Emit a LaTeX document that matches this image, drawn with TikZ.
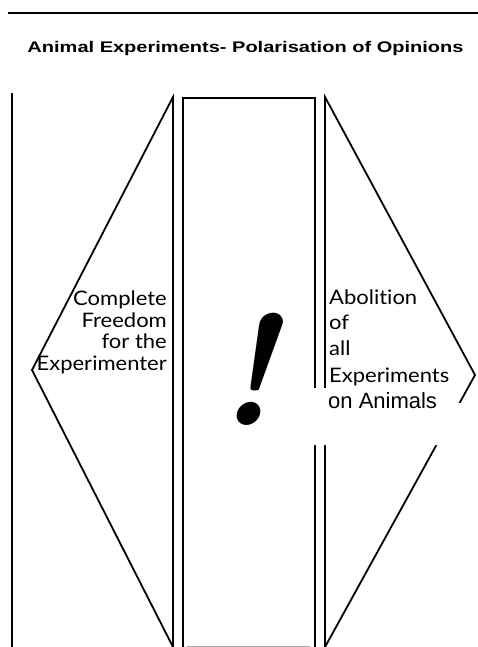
\documentclass[tikz,border=0pt]{standalone}
\usepackage{fontspec}
\newfontfamily\bodyfont[FakeStretch=1.1,Ligatures=NoCommon]{Lato}
\newfontfamily\titlefont[FakeStretch=1.3]{Liberation Sans}
\newfontfamily\pastefont{Liberation Sans}
\definecolor{edgeGray}{HTML}{A8A8A8}

\begin{document}
\begin{tikzpicture}[x=1pt,y=-1pt,
  wall/.style={draw=black,line width=1.8pt,line join=miter},
  freetext/.style={anchor=base east,inner sep=0pt,font=\bodyfont\fontsize{20}{22}\selectfont},
  bantext/.style={anchor=base west,inner sep=0pt,font=\bodyfont\fontsize{20}{22}\selectfont}]
  \useasboundingbox (0,0) rectangle (478,647);
  \draw[black,line width=2pt] (8,13) -- (478,13);
  \node[anchor=base,inner sep=0pt] (title) at (245.5,53)
    {\titlefont\bfseries\fontsize{15.4}{17}\selectfont Animal Experiments- Polarisation of Opinions};
  % outer line and left triangle
  \draw[wall] (12,93) -- (12,647);
  \draw[wall] (173,647) -- (32,370) -- (173,97) -- cycle;
  % centre panel
  \draw[wall] (183,647) -- (183,98) -- (315,98) -- (315,647);
  \draw[edgeGray,line width=1pt] (187,646) -- (310,646);
  % right triangle
  \draw[wall] (325,647) -- (475,375) -- (325,97) -- cycle;
  % pasted white strip over the lines
  \fill[white] (290,388) -- (440,388) -- (440,403) -- (463,403) -- (463,445) -- (290,445) -- cycle;
  \foreach \yb/\txt [count=\k] in {305/Complete,327/Freedom,348/for the,370/Experimenter}
    \node[freetext] (free\k) at (167,\yb) {\txt};
  \foreach \yb/\txt [count=\k] in {304/Abolition,329/of,355/all,382/Experiments}
    \node[bantext] (ban\k) at (329,\yb) {\txt};
  \node[anchor=base west,inner sep=0pt] (ban5) at (328,408)
    {\pastefont\fontsize{22}{24}\selectfont on Animals};
  \node[anchor=base,inner sep=0pt] (bang) at (246,425)
    {\rmfamily\bfseries\itshape\fontsize{158}{158}\selectfont !};
\end{tikzpicture}
\end{document}
